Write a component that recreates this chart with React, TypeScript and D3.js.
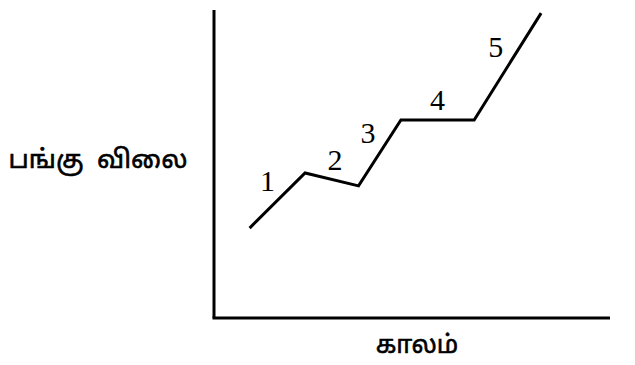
import React from "react";
import * as d3 from "d3";

// Time (x) and price (y) of the path's turning points, in arbitrary units
const times = [9, 23, 36.5, 47.2, 65.7, 82.6];
const prices = [29.2, 47.1, 42.9, 64.3, 64.3, 99];
const segmentLabels = ["1", "2", "3", "4", "5"];
const yTitle = "பங்கு விலை";
const xTitle = "காலம்";

const W = 635;
const H = 365;

export default function App() {
  const x = d3.scaleLinear().domain([0, 100]).range([214, 610]);
  const y = d3.scaleLinear().domain([0, 100]).range([318, 10]);
  const pts: [number, number][] = times.map((t, i) => [x(t), y(prices[i])]);
  const line = d3.line()(pts) || "";

  const labels = segmentLabels.map((s, i) => {
    const [x0, y0] = pts[i];
    const [x1, y1] = pts[i + 1];
    const dx = x1 - x0;
    const dy = y1 - y0;
    const len = Math.hypot(dx, dy);
    const nx = dy / len;
    return { s, cx: (x0 + x1) / 2 + nx * 14, cy: (y0 + y1) / 2 - 20 };
  });

  return (
    <svg
      width={W}
      height={H}
      style={{ position: "absolute", left: 0, top: 0, background: "#fff" }}
    >
      <line x1={x(0)} y1={y(100)} x2={x(0)} y2={y(0)} stroke="#000" strokeWidth={3} />
      <line x1={x(0) - 1.5} y1={y(0)} x2={x(100)} y2={y(0)} stroke="#000" strokeWidth={3} />
      <path d={line} fill="none" stroke="#000" strokeWidth={3} strokeLinejoin="miter" />
      {labels.map((l) => (
        <text
          key={l.s}
          x={l.cx}
          y={l.cy}
          textAnchor="middle"
          dominantBaseline="central"
          fontFamily="'Liberation Serif', 'Times New Roman', serif"
          fontSize={30}
          fill="#000"
        >
          {l.s}
        </text>
      ))}
      <text
        x={98}
        y={161}
        textAnchor="middle"
        dominantBaseline="central"
        fontSize={26}
        fill="#000"
        stroke="#000"
        strokeWidth={0.6}
        fontFamily="'Noto Sans Tamil', 'Noto Sans', sans-serif"
        style={{ whiteSpace: "pre" }}
      >
        {yTitle.replace(" ", "  ")}
      </text>
      <text
        x={417}
        y={346}
        textAnchor="middle"
        dominantBaseline="central"
        fontSize={25}
        fill="#000"
        stroke="#000"
        strokeWidth={0.6}
        fontFamily="'Noto Sans Tamil', 'Noto Sans', sans-serif"
      >
        {xTitle}
      </text>
    </svg>
  );
}
